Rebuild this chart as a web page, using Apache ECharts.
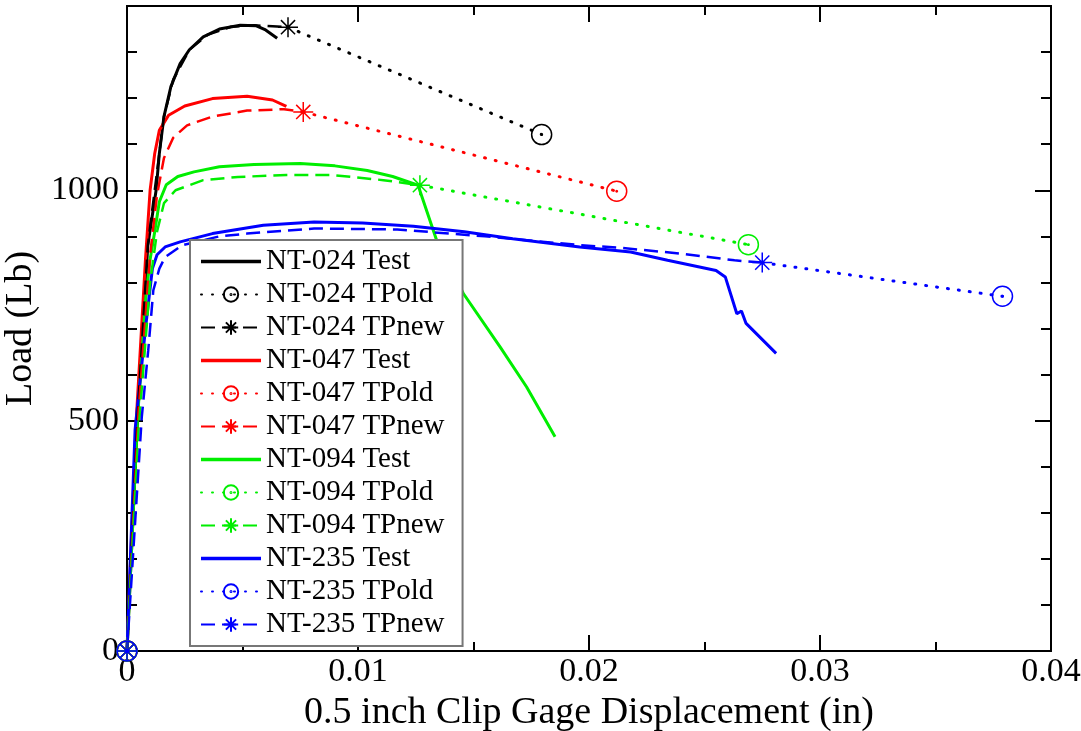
<!DOCTYPE html>
<html><head><meta charset="utf-8">
<script src="https://cdn.jsdelivr.net/npm/echarts@6/dist/echarts.min.js"></script>
<style>html,body{margin:0;padding:0;background:#fff}#c{width:1081px;height:731px}</style>
</head><body><div id="c"></div>
<script>
// ---- data (x: clip gage displacement in, y: load lb) ----
const seriesNames = ['NT-024 Test','NT-024 TPold','NT-024 TPnew','NT-047 Test','NT-047 TPold','NT-047 TPnew',
  'NT-094 Test','NT-094 TPold','NT-094 TPnew','NT-235 Test','NT-235 TPold','NT-235 TPnew'];
const colors = ['#000000','#ff0000','#00ee00','#0000ff'];

const nt024Test = [[0,0],[0.00045,500],[0.0009,880],[0.00126,1000],[0.0014,1080],[0.0016,1160],[0.0019,1225],[0.0023,1275],[0.0027,1305],[0.0033,1333],[0.004,1350],[0.0049,1358],[0.0056,1357],[0.006,1348],[0.0065,1330]];
const nt024New  = [[0,0],[0.00045,500],[0.0009,880],[0.0013,1040],[0.0016,1160],[0.002,1240],[0.0027,1305],[0.0035,1338],[0.0045,1355],[0.0055,1358],[0.0063,1356],[0.00697,1354]];
const nt024Old  = [[0,0],'-',[0.00697,1354],[0.01795,1121]];

const nt047Test = [[0,0],[0.0004,500],[0.0008,850],[0.001,1000],[0.0012,1080],[0.0014,1130],[0.0018,1163],[0.0025,1183],[0.0037,1199],[0.0052,1204],[0.0063,1196],[0.0069,1182]];
const nt047New  = [[0,0],[0.0005,520],[0.001,860],[0.0013,990],[0.0016,1070],[0.002,1114],[0.0026,1141],[0.0037,1160],[0.0052,1173],[0.0068,1176],[0.00763,1170]];
const nt047Old  = [[0,0],'-',[0.00763,1170],[0.0212,998]];

const nt094Test = [[0,0],[0.00045,500],[0.0008,760],[0.001,850],[0.0012,910],[0.0014,975],[0.0017,1012],[0.0022,1030],[0.0029,1040],[0.004,1051],[0.0055,1056],[0.0075,1058],[0.009,1053],[0.0104,1043],[0.0115,1030],[0.0126,1011],[0.0134,892],[0.01456,776],[0.01615,660],[0.0173,573],[0.01853,465]];
const nt094New  = [[0,0],[0.0005,480],[0.001,800],[0.0013,910],[0.0016,972],[0.0021,1000],[0.0033,1022],[0.0048,1029],[0.0069,1033],[0.0089,1033],[0.0111,1022],[0.01268,1011]];
const nt094Old  = [[0,0],'-',[0.01268,1011],[0.0269,882]];

const nt235Test = [[0,0],[0.00035,480],[0.0008,700],[0.0011,830],[0.0013,860],[0.00165,877],[0.0023,888],[0.0037,906],[0.0059,924],[0.0081,931],[0.0102,929],[0.0124,922],[0.0146,910],[0.0167,895],[0.0196,877],[0.0218,866],[0.0234,848],[0.0255,826],[0.0259,812],[0.0264,732],[0.0266,738],[0.0268,711],[0.0281,646]];
const nt235New  = [[0,0],[0.00064,508],[0.00092,653],[0.00114,783],[0.0014,830],[0.00165,855],[0.0024,881],[0.004,900],[0.0052,906],[0.0081,917],[0.0117,915],[0.0155,900],[0.0196,881],[0.0214,875],[0.0241,862],[0.0263,848],[0.0275,843]];
const nt235Old  = [[0,0],'-',[0.0275,843],[0.0379,770]];

const xTicks = {min: 0, max: 0.04, interval: 0.01};
const yTicks = {min: 0, max: 1400, interval: 500, minor: 100};

// ---- styling ----
const circleDot = 'path://M10,0A10,10,0,1,1,-10,0A10,10,0,1,1,10,0ZM0.7,0A0.7,0.7,0,1,1,-0.7,0A0.7,0.7,0,1,1,0.7,0Z';
const starSym = 'path://M0,-10L0,10M-10,0L10,0M-7.07,-7.07L7.07,7.07M-7.07,7.07L7.07,-7.07';
const lineIcon = 'path://M0,0H44V2.5H0Z';
const FONT = 'Liberation Serif';

function endMarked(points, sym) {
  return points.map((p, i) => {
    if (p === '-') return {value: ['-', '-'], symbol: 'none'};
    return {value: p, symbol: (i === 0 || i === points.length - 1) ? sym : 'none'};
  });
}
function testSeries(name, data, c) {
  return {name, type: 'line', data, symbol: 'none',
    lineStyle: {color: c, width: 3}, itemStyle: {color: c}, z: 2};
}
function oldSeries(name, data, c) {
  return {name, type: 'line', data: endMarked(data, circleDot), symbol: circleDot, symbolSize: 20, showSymbol: true,
    symbolKeepAspect: true, connectNulls: false,
    lineStyle: {color: c, width: 3, type: [1, 10], cap: 'round'},
    itemStyle: {color: 'rgba(255,255,255,0)', borderColor: c, borderWidth: 1.5}, z: 3};
}
function newSeries(name, data, c) {
  return {name, type: 'line', data: endMarked(data, starSym), symbol: starSym, symbolSize: 20, showSymbol: true,
    symbolKeepAspect: true,
    lineStyle: {color: c, width: 2.5, type: [14, 7]},
    itemStyle: {color: 'rgba(255,255,255,0)', borderColor: c, borderWidth: 1.5}, z: 3};
}

const groups = [[nt024Test, nt024Old, nt024New],[nt047Test, nt047Old, nt047New],[nt094Test, nt094Old, nt094New],[nt235Test, nt235Old, nt235New]];
const series = [];
groups.forEach((g, k) => {
  series.push(testSeries(seriesNames[k*3], g[0], colors[k]));
  series.push(oldSeries(seriesNames[k*3+1], g[1], colors[k]));
  series.push(newSeries(seriesNames[k*3+2], g[2], colors[k]));
});
const legendData = seriesNames.map((n, i) => (i % 3 === 0
  ? {name: n, icon: lineIcon, itemStyle: {color: colors[Math.floor(i / 3)], borderWidth: 0}}
  : {name: n}));

const axLine = {show: true, onZero: false, lineStyle: {color: '#000', width: 2}};
function xAxis(pos, labels) {
  return {type: 'value', position: pos, min: xTicks.min, max: xTicks.max, interval: xTicks.interval,
    axisLine: axLine, splitLine: {show: false},
    axisTick: {show: true, inside: true, length: 16, lineStyle: {color: '#000', width: 2}},
    minorTick: {show: true, splitNumber: 2, length: 9, lineStyle: {color: '#000', width: 2}},
    axisLabel: {show: labels, margin: 4, fontFamily: FONT, fontSize: 34, color: '#000',
      formatter: v => (v === 0 ? '0' : String(+v.toFixed(3)))},
    name: labels ? '0.5 inch Clip Gage Displacement (in)' : '', nameLocation: 'middle', nameGap: 28,
    nameTextStyle: {fontFamily: FONT, fontSize: 38, color: '#000'}};
}
function yAxis(pos, major, labels) {
  return {type: 'value', position: pos, min: yTicks.min, max: yTicks.max,
    interval: major ? yTicks.interval : yTicks.minor,
    axisLine: axLine, splitLine: {show: false},
    axisTick: {show: true, inside: true, length: major ? 16 : 10, lineStyle: {color: '#000', width: 2}},
    axisLabel: {show: labels, margin: 8, fontFamily: FONT, fontSize: 34, color: '#000', showMaxLabel: false,
      formatter: v => String(v)},
    name: labels ? 'Load (Lb)' : '', nameLocation: 'middle', nameGap: 74,
    nameTextStyle: {fontFamily: FONT, fontSize: 38, color: '#000'}};
}

const chart = echarts.init(document.getElementById('c'), null, {renderer: 'canvas'});
chart.setOption({
  animation: false,
  backgroundColor: '#fff',
  grid: {left: 127, right: 30, top: 6, bottom: 80, outerBoundsMode: 'none'},
  xAxis: [xAxis('bottom', true), xAxis('top', false)],
  yAxis: [yAxis('left', true, true), yAxis('left', false, false), yAxis('right', true, false), yAxis('right', false, false)],
  legend: {
    orient: 'vertical', left: 190, top: 240, data: legendData,
    itemWidth: 60, itemHeight: 18, itemGap: 4,
    padding: [7, 18, 7, 10],
    backgroundColor: '#fff', borderColor: '#777', borderWidth: 2, borderRadius: 0,
    textStyle: {fontFamily: FONT, fontSize: 29, color: '#000', lineHeight: 26}
  },
  series
});
</script></body></html>
